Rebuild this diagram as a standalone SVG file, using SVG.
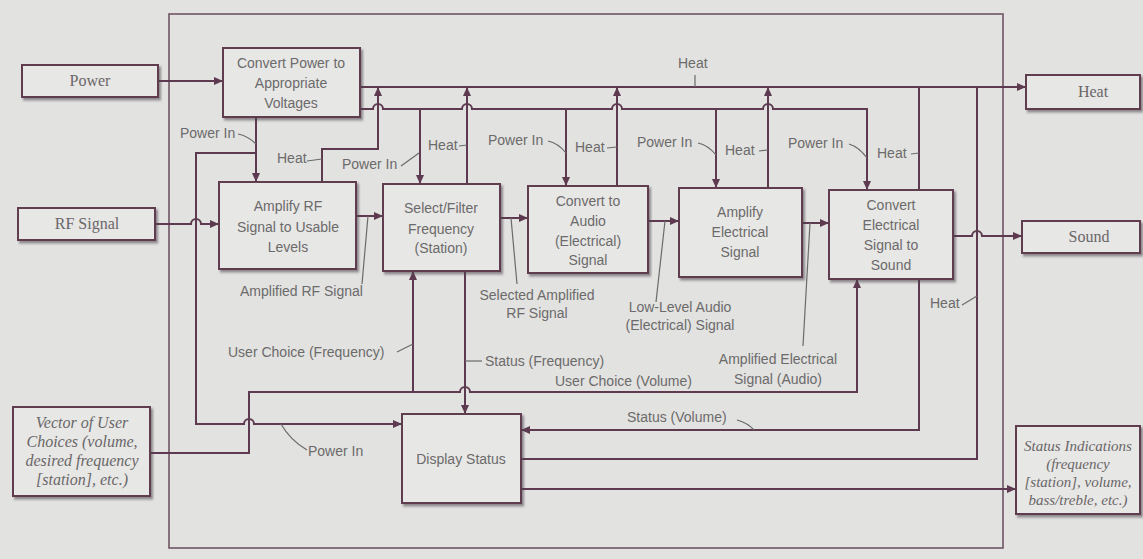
<svg xmlns="http://www.w3.org/2000/svg" width="1143" height="559" viewBox="0 0 1143 559">
<style>
.bg{fill:#e2e2e0}
.frame{fill:none;stroke:#6e5564;stroke-width:1.6}
.box{fill:#e7e7e5;stroke:#5e3c50;stroke-width:2;filter:url(#sh)}
.ln{fill:none;stroke:#5e3a50;stroke-width:2}
.arr{marker-end:url(#ah)}
.tk{fill:none;stroke:#6a6a6a;stroke-width:1.2}
.t{font-family:"Liberation Sans",Arial,sans-serif;font-size:14px;fill:#6c6a6b}
.c{text-anchor:middle}
.s{font-family:"Liberation Serif","Times New Roman",serif;font-size:16px;fill:#6a6668;text-anchor:middle}
.i{font-family:"Liberation Serif","Times New Roman",serif;font-style:italic;fill:#6a6668;text-anchor:middle}
</style>
<defs>
<marker id="ah" markerUnits="userSpaceOnUse" markerWidth="9" markerHeight="8" refX="9" refY="4" orient="auto">
<path d="M0,0 L9,4 L0,8 z" fill="#5e3a50"/>
</marker>
<filter id="sh" x="-10%" y="-10%" width="125%" height="130%">
<feDropShadow dx="2" dy="2.5" stdDeviation="1.2" flood-color="#4a4046" flood-opacity="0.55"/>
</filter>
</defs>
<rect class="bg" x="0" y="0" width="1143" height="559"/>
<rect class="frame" x="169" y="14" width="834" height="534"/>

<g id="connectors">
<path class="ln arr" d="M158,81 H223"/>
<path class="ln arr" d="M360,87 H1026"/>
<path class="ln arr" d="M360,109 H373 A5,5 0 0 1 383,109 H462 A5,5 0 0 1 472,109 H612 A5,5 0 0 1 622,109 H763 A5,5 0 0 1 773,109 H867 V190"/>
<path class="ln arr" d="M420,109 V184"/>
<path class="ln arr" d="M566,109 V186"/>
<path class="ln arr" d="M716,109 V188"/>
<path class="ln arr" d="M256,117 V182"/>
<path class="ln arr" d="M256,153 H196 V424 H244 A5,5 0 0 1 254,424 H402"/>
<path class="ln arr" d="M322,182 V149 H378 V87"/>
<path class="ln arr" d="M467,184 V87"/>
<path class="ln arr" d="M617,186 V87"/>
<path class="ln arr" d="M768,188 V87"/>
<path class="ln" d="M919,190 V87"/>
<path class="ln" d="M521,459 H977 V87"/>
<path class="ln arr" d="M155,224 H191 A5,5 0 0 1 201,224 H219"/>
<path class="ln arr" d="M356,216 H383"/>
<path class="ln arr" d="M500,218 H528"/>
<path class="ln arr" d="M648,221 H679"/>
<path class="ln arr" d="M802,223 H829"/>
<path class="ln arr" d="M953,236 H972 A5,5 0 0 1 982,236 H1022"/>
<path class="ln arr" d="M150,453 H249 V392 H460 A5,5 0 0 1 470,392 H857 V279"/>
<path class="ln arr" d="M413,392 V271"/>
<path class="ln arr" d="M465,271 V414"/>
<path class="ln arr" d="M919,279 V430 H521"/>
<path class="ln arr" d="M521,489 H1016"/>
<!-- label ticks -->
<path class="tk" d="M695,75 V87"/>
<path class="tk" d="M238,134 Q248,136 256,144"/>
<path class="tk" d="M307,161 L322,159"/>
<path class="tk" d="M401,166 L419,153"/>
<path class="tk" d="M459,146 L467,145"/>
<path class="tk" d="M548,141 Q558,143 566,153"/>
<path class="tk" d="M607,148 L617,147"/>
<path class="tk" d="M698,143 Q708,145 716,155"/>
<path class="tk" d="M759,151 L768,150"/>
<path class="tk" d="M849,144 Q859,147 867,158"/>
<path class="tk" d="M911,154 L919,153"/>
<path class="tk" d="M962,305 L977,296"/>
<path class="tk" d="M362,284 L368,216"/>
<path class="tk" d="M397,352 L413,344"/>
<path class="tk" d="M517,284 L511,218"/>
<path class="tk" d="M656,302 L665,221"/>
<path class="tk" d="M803,346 L810,223"/>
<path class="tk" d="M465,361 H482"/>
<path class="tk" d="M737,420 Q748,423 754,430"/>
<path class="tk" d="M307,450 Q290,440 281,424"/>
</g>

<g id="labels">
<text class="t" x="678" y="68">Heat</text>
<text class="t" x="180" y="138">Power In</text>
<text class="t" x="277" y="163">Heat</text>
<text class="t" x="342" y="169">Power In</text>
<text class="t" x="428" y="150">Heat</text>
<text class="t" x="488" y="145">Power In</text>
<text class="t" x="575" y="152">Heat</text>
<text class="t" x="637" y="147">Power In</text>
<text class="t" x="725" y="155">Heat</text>
<text class="t" x="788" y="148">Power In</text>
<text class="t" x="877" y="158">Heat</text>
<text class="t" x="930" y="308">Heat</text>
<text class="t" x="240" y="296">Amplified RF Signal</text>
<text class="t" x="228" y="357">User Choice (Frequency)</text>
<text class="t c" x="537" y="300">Selected Amplified</text>
<text class="t c" x="537" y="318">RF Signal</text>
<text class="t c" x="680" y="312">Low-Level Audio</text>
<text class="t c" x="680" y="330">(Electrical) Signal</text>
<text class="t c" x="778" y="364">Amplified Electrical</text>
<text class="t c" x="778" y="384">Signal (Audio)</text>
<text class="t" x="485" y="366">Status (Frequency)</text>
<text class="t" x="555" y="386">User Choice (Volume)</text>
<text class="t" x="627" y="422">Status (Volume)</text>
<text class="t" x="308" y="456">Power In</text>
</g>

<g id="n-power"><rect class="box" x="22" y="65" width="136" height="32"/><text class="s" x="90" y="86">Power</text></g>
<g id="n-rf"><rect class="box" x="18" y="208" width="137" height="32"/><text class="s" x="87" y="229">RF Signal</text></g>
<g id="n-vector"><rect class="box" x="13" y="407" width="137" height="89"/>
<text class="i" font-size="16" x="82" y="428">Vector of User</text>
<text class="i" font-size="16" x="82" y="447">Choices (volume,</text>
<text class="i" font-size="16" x="82" y="466">desired frequency</text>
<text class="i" font-size="16" x="82" y="485">[station], etc.)</text></g>
<g id="n-heat"><rect class="box" x="1026" y="75" width="114" height="34"/><text class="s" x="1093" y="97">Heat</text></g>
<g id="n-sound"><rect class="box" x="1022" y="221" width="118" height="32"/><text class="s" x="1089" y="242">Sound</text></g>
<g id="n-status-ind"><rect class="box" x="1016" y="426" width="124" height="88"/>
<text class="i" font-size="15" x="1078" y="451">Status Indications</text>
<text class="i" font-size="15" x="1078" y="469">(frequency</text>
<text class="i" font-size="15" x="1078" y="487">[station], volume,</text>
<text class="i" font-size="15" x="1078" y="505">bass/treble, etc.)</text></g>

<g id="n-convpower"><rect class="box" x="223" y="48" width="137" height="69"/>
<text class="t c" x="291" y="68">Convert Power to</text>
<text class="t c" x="291" y="88">Appropriate</text>
<text class="t c" x="291" y="108">Voltages</text></g>
<g id="n-amprf"><rect class="box" x="219" y="182" width="137" height="87"/>
<text class="t c" x="288" y="211">Amplify RF</text>
<text class="t c" x="288" y="232">Signal to Usable</text>
<text class="t c" x="288" y="252">Levels</text></g>
<g id="n-select"><rect class="box" x="383" y="184" width="117" height="87"/>
<text class="t c" x="441" y="213">Select/Filter</text>
<text class="t c" x="441" y="234">Frequency</text>
<text class="t c" x="441" y="253">(Station)</text></g>
<g id="n-convaudio"><rect class="box" x="528" y="186" width="120" height="87"/>
<text class="t c" x="588" y="206">Convert to</text>
<text class="t c" x="588" y="226">Audio</text>
<text class="t c" x="588" y="246">(Electrical)</text>
<text class="t c" x="588" y="265">Signal</text></g>
<g id="n-ampelec"><rect class="box" x="679" y="188" width="123" height="89"/>
<text class="t c" x="740" y="217">Amplify</text>
<text class="t c" x="740" y="237">Electrical</text>
<text class="t c" x="740" y="257">Signal</text></g>
<g id="n-convsound"><rect class="box" x="829" y="190" width="124" height="89"/>
<text class="t c" x="891" y="210">Convert</text>
<text class="t c" x="891" y="230">Electrical</text>
<text class="t c" x="891" y="250">Signal to</text>
<text class="t c" x="891" y="270">Sound</text></g>
<g id="n-display"><rect class="box" x="402" y="414" width="119" height="89"/>
<text class="t c" x="461" y="464">Display Status</text></g>
</svg>
